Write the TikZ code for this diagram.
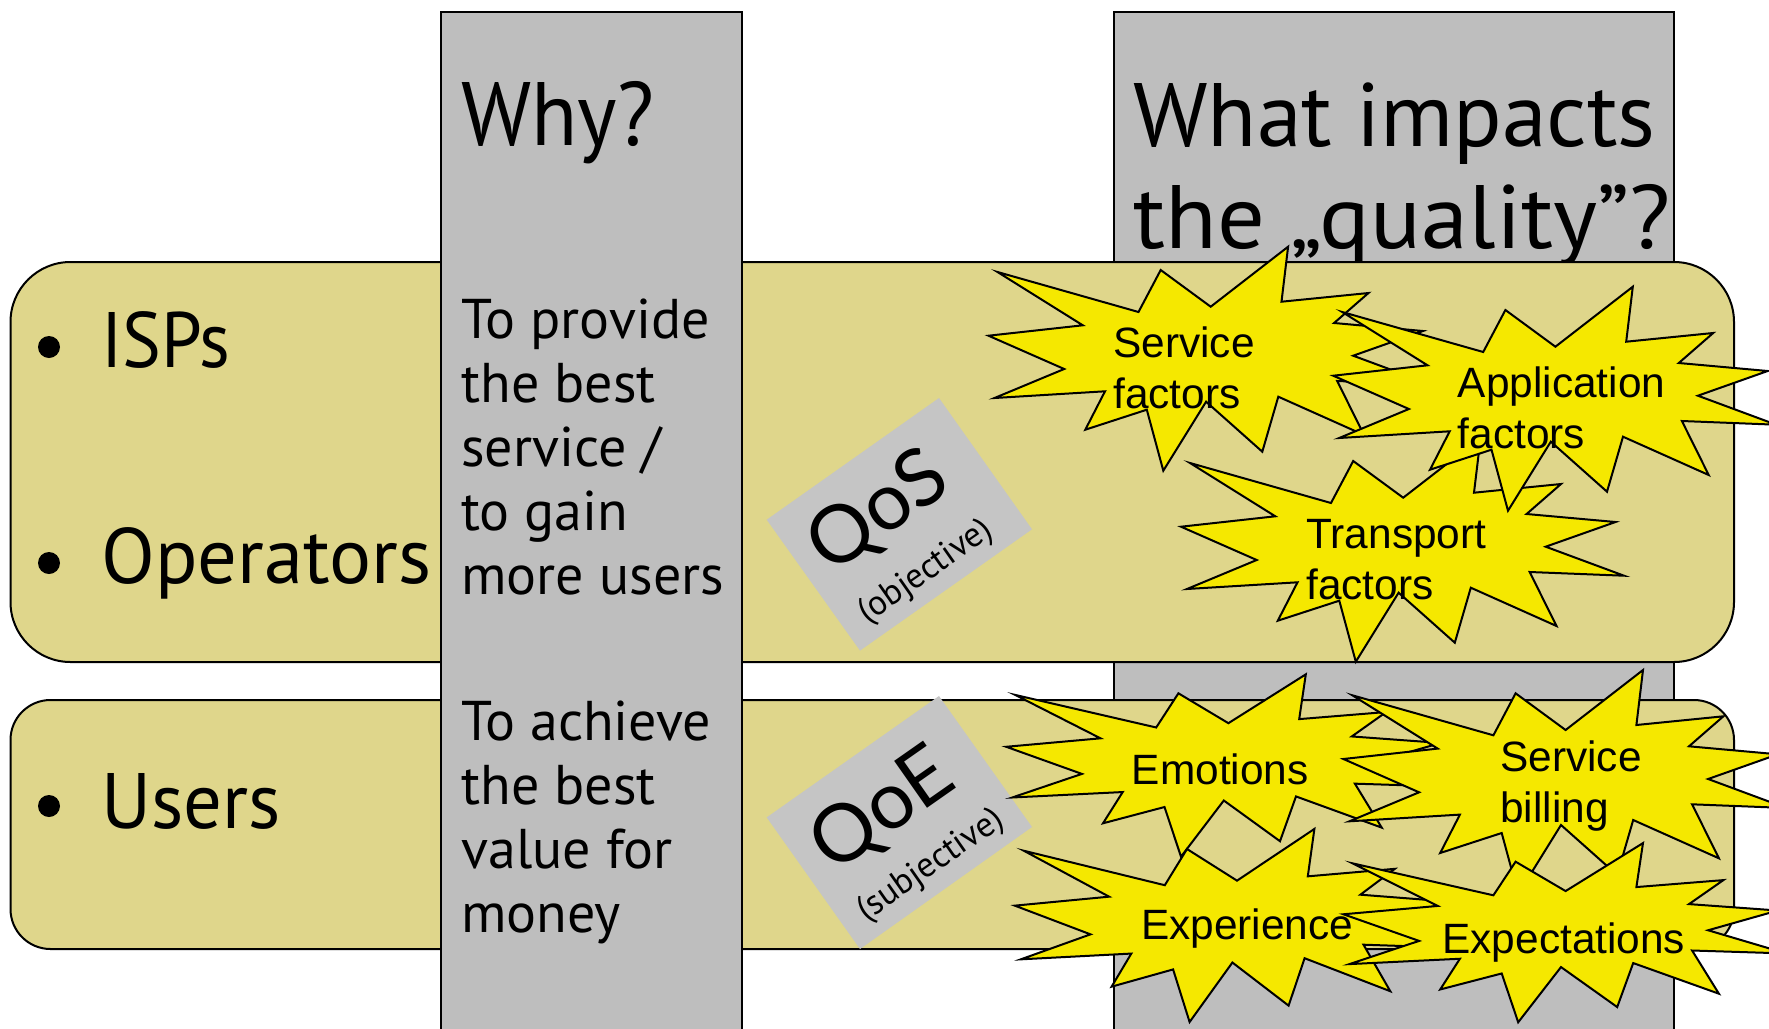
\documentclass[tikz,border=0pt]{standalone}
\usepackage{fontspec}
\setmainfont{PT Sans}
\newfontfamily\arialf{Liberation Sans}
\newfontfamily\tagf{Lato}
\definecolor{bandc}{HTML}{DFD68B}
\definecolor{colc}{HTML}{BEBEBE}
\definecolor{tagc}{HTML}{C5C5C5}
\definecolor{burstc}{HTML}{F5E800}
\tikzset{
  band/.style={draw=black,fill=bandc,line width=1pt},
  column/.style={draw=black,fill=colc,line width=1pt},
  burst/.style={draw=black,fill=burstc,line width=1pt,line join=miter,miter limit=20},
  tagbox/.style={fill=tagc,draw=none},
  head/.style={anchor=base west,inner sep=0pt,align=left,font=\fontsize{45}{51}\selectfont},
  item/.style={anchor=base west,inner sep=0pt,font=\fontsize{39.3}{44}\selectfont},
  body/.style={anchor=base west,inner sep=0pt,align=left,font=\fontsize{28}{32}\selectfont},
  bull/.style={circle,fill=black,inner sep=0pt,minimum size=11pt},
  burstlabel/.style={anchor=base west,inner sep=0pt,align=left,font=\arialf\fontsize{21.2}{25.4}\selectfont},
  tagbig/.style={inner sep=0pt,rotate=35,text=black,font=\tagf\fontsize{40}{48}\selectfont},
  tagsmall/.style={inner sep=0pt,rotate=35,font=\fontsize{17.5}{20}\selectfont},
}
\newcommand{\burstshape}[3]{\draw[burst,shift={(#1,#2)},yscale=#3]
 (4,2)--(145,42)--(167.2,0)--(217.2,36.7)--(294.6,-23.3)--(288,31.7)--(375,23)--(340.6,53)--(429.5,61)--(359.7,85.7)--(438,114.7)--(343.7,111)--(370.5,165)--(284.8,126.7)--(268.8,181.7)--(212.6,131.7)--(169.8,200.7)--(153.3,139.7)--(91.8,159.7)--(111.5,121.3)--(1,128)--(70.7,99)--(-5,65.7)--(89.3,55.3)--cycle;}
\begin{document}
\begin{tikzpicture}[x=0.5pt,y=-0.5pt]
\useasboundingbox (0,0) rectangle (1769,1029);
\clip (0,0) rectangle (1769,1029);
% right column
\path[column,draw] (1114,12) rectangle (1674,1040);
\node[head] (whathead) at (1133,248) {What impacts\\\scalebox{1.05}[1]{the „quality”?}};
% bands
\path[band,rounded corners=30pt] (10.5,262) rectangle (1734,662);
\path[band,rounded corners=20pt] (10.5,700) rectangle (1734,949);
% left column
\path[column,draw] (441,12) rectangle (742,1040);
\node[head] (why) at (461,145) {\scalebox{0.94}[1]{Why?}};
\node[body] (t1) at (461,594) {To provide\\the best\\service /\\to gain\\more users};
\node[body] (t2) at (461,932) {To achieve\\the best\\value for\\money};
% left items
\node[bull] (b1) at (49,347) {};
\node[bull] (b2) at (49,563) {};
\node[bull] (b3) at (49,806) {};
\node[item] (isps) at (101,367) {\scalebox{0.93}[1]{ISPs}};
\node[item] (oper) at (101,583) {Operators};
\node[item] (users) at (101,828) {\scalebox{0.975}[1]{Users}};
% tags
\fill[tagbox] (939,398)--(1032,529.3)--(860,650.6)--(766.7,519.7)--cycle;
\fill[tagbox] (939,696)--(1032,827)--(860,949)--(766.7,817.4)--cycle;
\node[tagbig] (qos) at (879,513) {QoS};
\node[tagsmall] (obj) at (926,572) {(objective)};
\node[tagbig] (qoe) at (883,811) {QoE};
\node[tagsmall] (subj) at (931,866) {(subjective)};
% bursts
\burstshape{993.5}{270}{1}
\burstshape{1186}{461}{1}
\burstshape{1338.2}{310}{1}
\burstshape{1011.2}{693.3}{0.814}
\burstshape{1348.4}{693.3}{1}
\burstshape{1019.8}{849}{0.862}
\burstshape{1348.4}{861.7}{0.8}
\node[burstlabel] (l1) at (1113,408) {Service\\factors};
\node[burstlabel] (l2) at (1457.5,448) {Application\\factors};
\node[burstlabel] (l3) at (1306,599) {Transport\\factors};
\node[burstlabel] (l4) at (1131.5,784) {Emotions};
\node[burstlabel] (l5) at (1500,822) {Service\\billing};
\node[burstlabel] (l6) at (1140.6,939.5) {Experience};
\node[burstlabel] (l7) at (1442,953) {Expectations};
\end{tikzpicture}
\end{document}
